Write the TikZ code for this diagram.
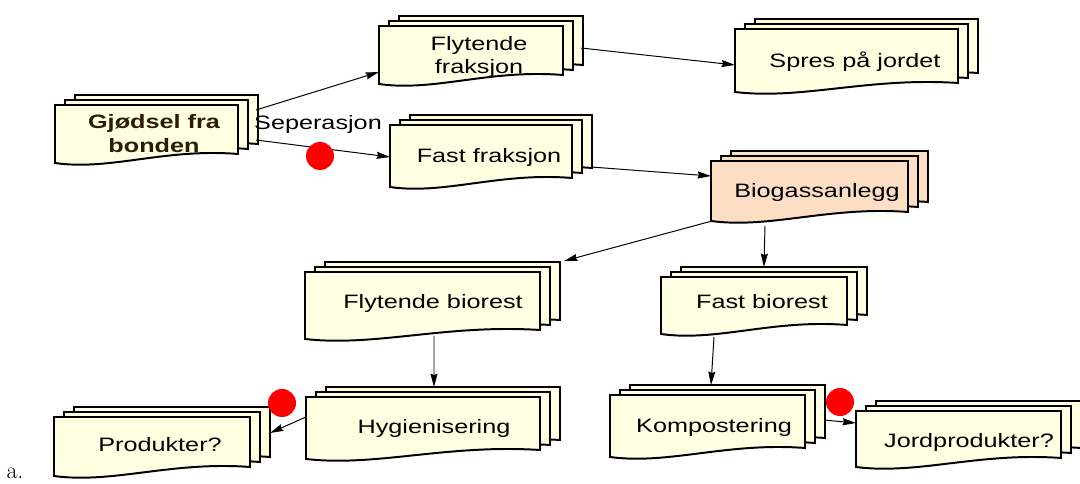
\documentclass[tikz,border=0pt]{standalone}
\usepackage{fontspec}
\usepackage{tikz}
\usetikzlibrary{arrows.meta,calc}

\newfontfamily\docfont[FakeStretch=1.3]{Liberation Sans}
\definecolor{docyel}{RGB}{255,255,225}
\definecolor{docpeach}{RGB}{252,222,196}
\definecolor{farmbrown}{RGB}{45,28,5}

\tikzset{
	doc/.style 2 args={minimum width=#1*0.025cm, minimum height=#2*0.025cm, inner sep=0pt, outer sep=0pt},
	docline/.style={draw=black, line width=1.4pt},
	txt/.style={font=\docfont\fontsize{13.8pt}{16pt}\selectfont, align=center, inner sep=0pt},
	arr/.style={-{Stealth[length=9.5pt,width=5pt,inset=1pt]}, line width=0.7pt},
	dot/.style={circle, fill=red, minimum size=0.7cm, inner sep=0pt}
}

% one sheet of a document stack: node, dx, dy, fill
\newcommand{\docsheet}[4]{%
	\filldraw[docline, fill=#4] ($(#1.south east)+(#2,#3)$) -- ($(#1.north east)+(#2,#3)$)
		-- ($(#1.north west)+(#2,#3)$) -- ($(#1.south west)+(#2,#3+9)$)
		.. controls ($(#1.south west)!0.3!(#1.south east)+(#2,#3+17)$) and ($(#1.south west)!0.6!(#1.south east)+(#2,#3-6)$)
		.. ($(#1.south east)+(#2,#3)$) -- cycle;
}

\begin{document}
\begin{tikzpicture}[x=0.025cm, y=-0.025cm]
	\useasboundingbox (0,0) rectangle (1080,484);
	
	\node[doc={183}{49}] (gjo) at (146.5, 129.5) {};
	\node[doc={184}{49}] (flf) at (471, 50.5)    {};
	\node[doc={223}{54}] (spr) at (846.5, 56)    {};
	\node[doc={182}{53}] (fas) at (481, 151.5)   {};
	\node[doc={197}{51}] (bio) at (809.5, 186.5) {};
	\node[doc={235}{58}] (flb) at (422.5, 301)   {};
	\node[doc={186}{48}] (fab) at (754, 301)     {};
	\node[doc={234}{53}] (hyg) at (423, 423.5)   {};
	\node[doc={195}{53}] (kom) at (707.5, 421.5) {};
	\node[doc={196}{50}] (pro) at (152, 442)     {};
	\node[doc={205}{47}] (jor) at (958.5, 434.5) {};
	
	\foreach \n/\c in {gjo/docyel, flf/docyel, spr/docyel, fas/docyel, bio/docpeach,
		flb/docyel, fab/docyel, hyg/docyel, kom/docyel, pro/docyel, jor/docyel} {
		\docsheet{\n}{20}{-10}{\c}
		\docsheet{\n}{10}{-5}{\c}
		\docsheet{\n}{0}{0}{\c}
	}
	
	\node[txt, font=\docfont\bfseries\fontsize{13.8pt}{17pt}\selectfont, text=farmbrown] (gjo-t) at (154, 134) {Gjødsel fra\\bonden};
	\node[txt] (flf-t) at (479, 57)  {Flytende\\fraksjon};
	\node[txt] (spr-t) at (855, 62)  {Spres på jordet};
	\node[txt] (fas-t) at (489, 157) {Fast fraksjon};
	\node[txt] (bio-t) at (817, 192) {Biogassanlegg};
	\node[txt] (flb-t) at (433, 303) {Flytende biorest};
	\node[txt] (fab-t) at (762, 302) {Fast biorest};
	\node[txt] (hyg-t) at (434, 428) {Hygienisering};
	\node[txt] (kom-t) at (714, 427) {Kompostering};
	\node[txt] (pro-t) at (160, 445) {Produkter?};
	\node[txt] (jor-t) at (969, 442) {Jordprodukter?};
	\node[txt] (sep)   at (318, 124) {Seperasjon};
	\node[font=\fontsize{17pt}{20pt}\selectfont, inner sep=0pt] (lab) at (15, 473) {a.};
	
	\path[arr] ($(gjo.north east)+(18,5)$)  edge ($(flf.south west)+(0,-3)$);
	\path[arr] ($(gjo.north east)+(18,35)$) edge ($(fas.west)+(0,5.5)$);
	\path[arr] ($(flf.north east)+(18,22)$) edge ($(spr.west)+(0,9)$);
	\path[arr] ($(fas.north east)+(19,42)$) edge ($(bio.west)+(0,-10.5)$);
	\path[arr] ($(bio.south west)+(1,9)$)   edge ($(flb.north east)+(24,-11)$);
	\path[arr] ($(bio.south west)+(54,14)$) edge ($(fab.north)+(10,-10)$);
	\path[arr] ($(flb.south)+(11.5,6)$)     edge ($(hyg.north)+(11,-10)$);
	\path[arr] ($(fab.south west)+(53,12)$) edge ($(kom.north)+(3.5,-10)$);
	\path[arr] ($(hyg.west)+(0,-6.5)$)      edge ($(pro.north east)+(20,16)$);
	\path[arr] ($(kom.north east)+(19,25)$) edge ($(jor.west)+(0,-11.5)$);
	
	\node[dot] (dot1) at (320, 156) {};
	\node[dot] (dot2) at (282, 403) {};
	\node[dot] (dot3) at (840, 402) {};
	
\end{tikzpicture}
\end{document}
